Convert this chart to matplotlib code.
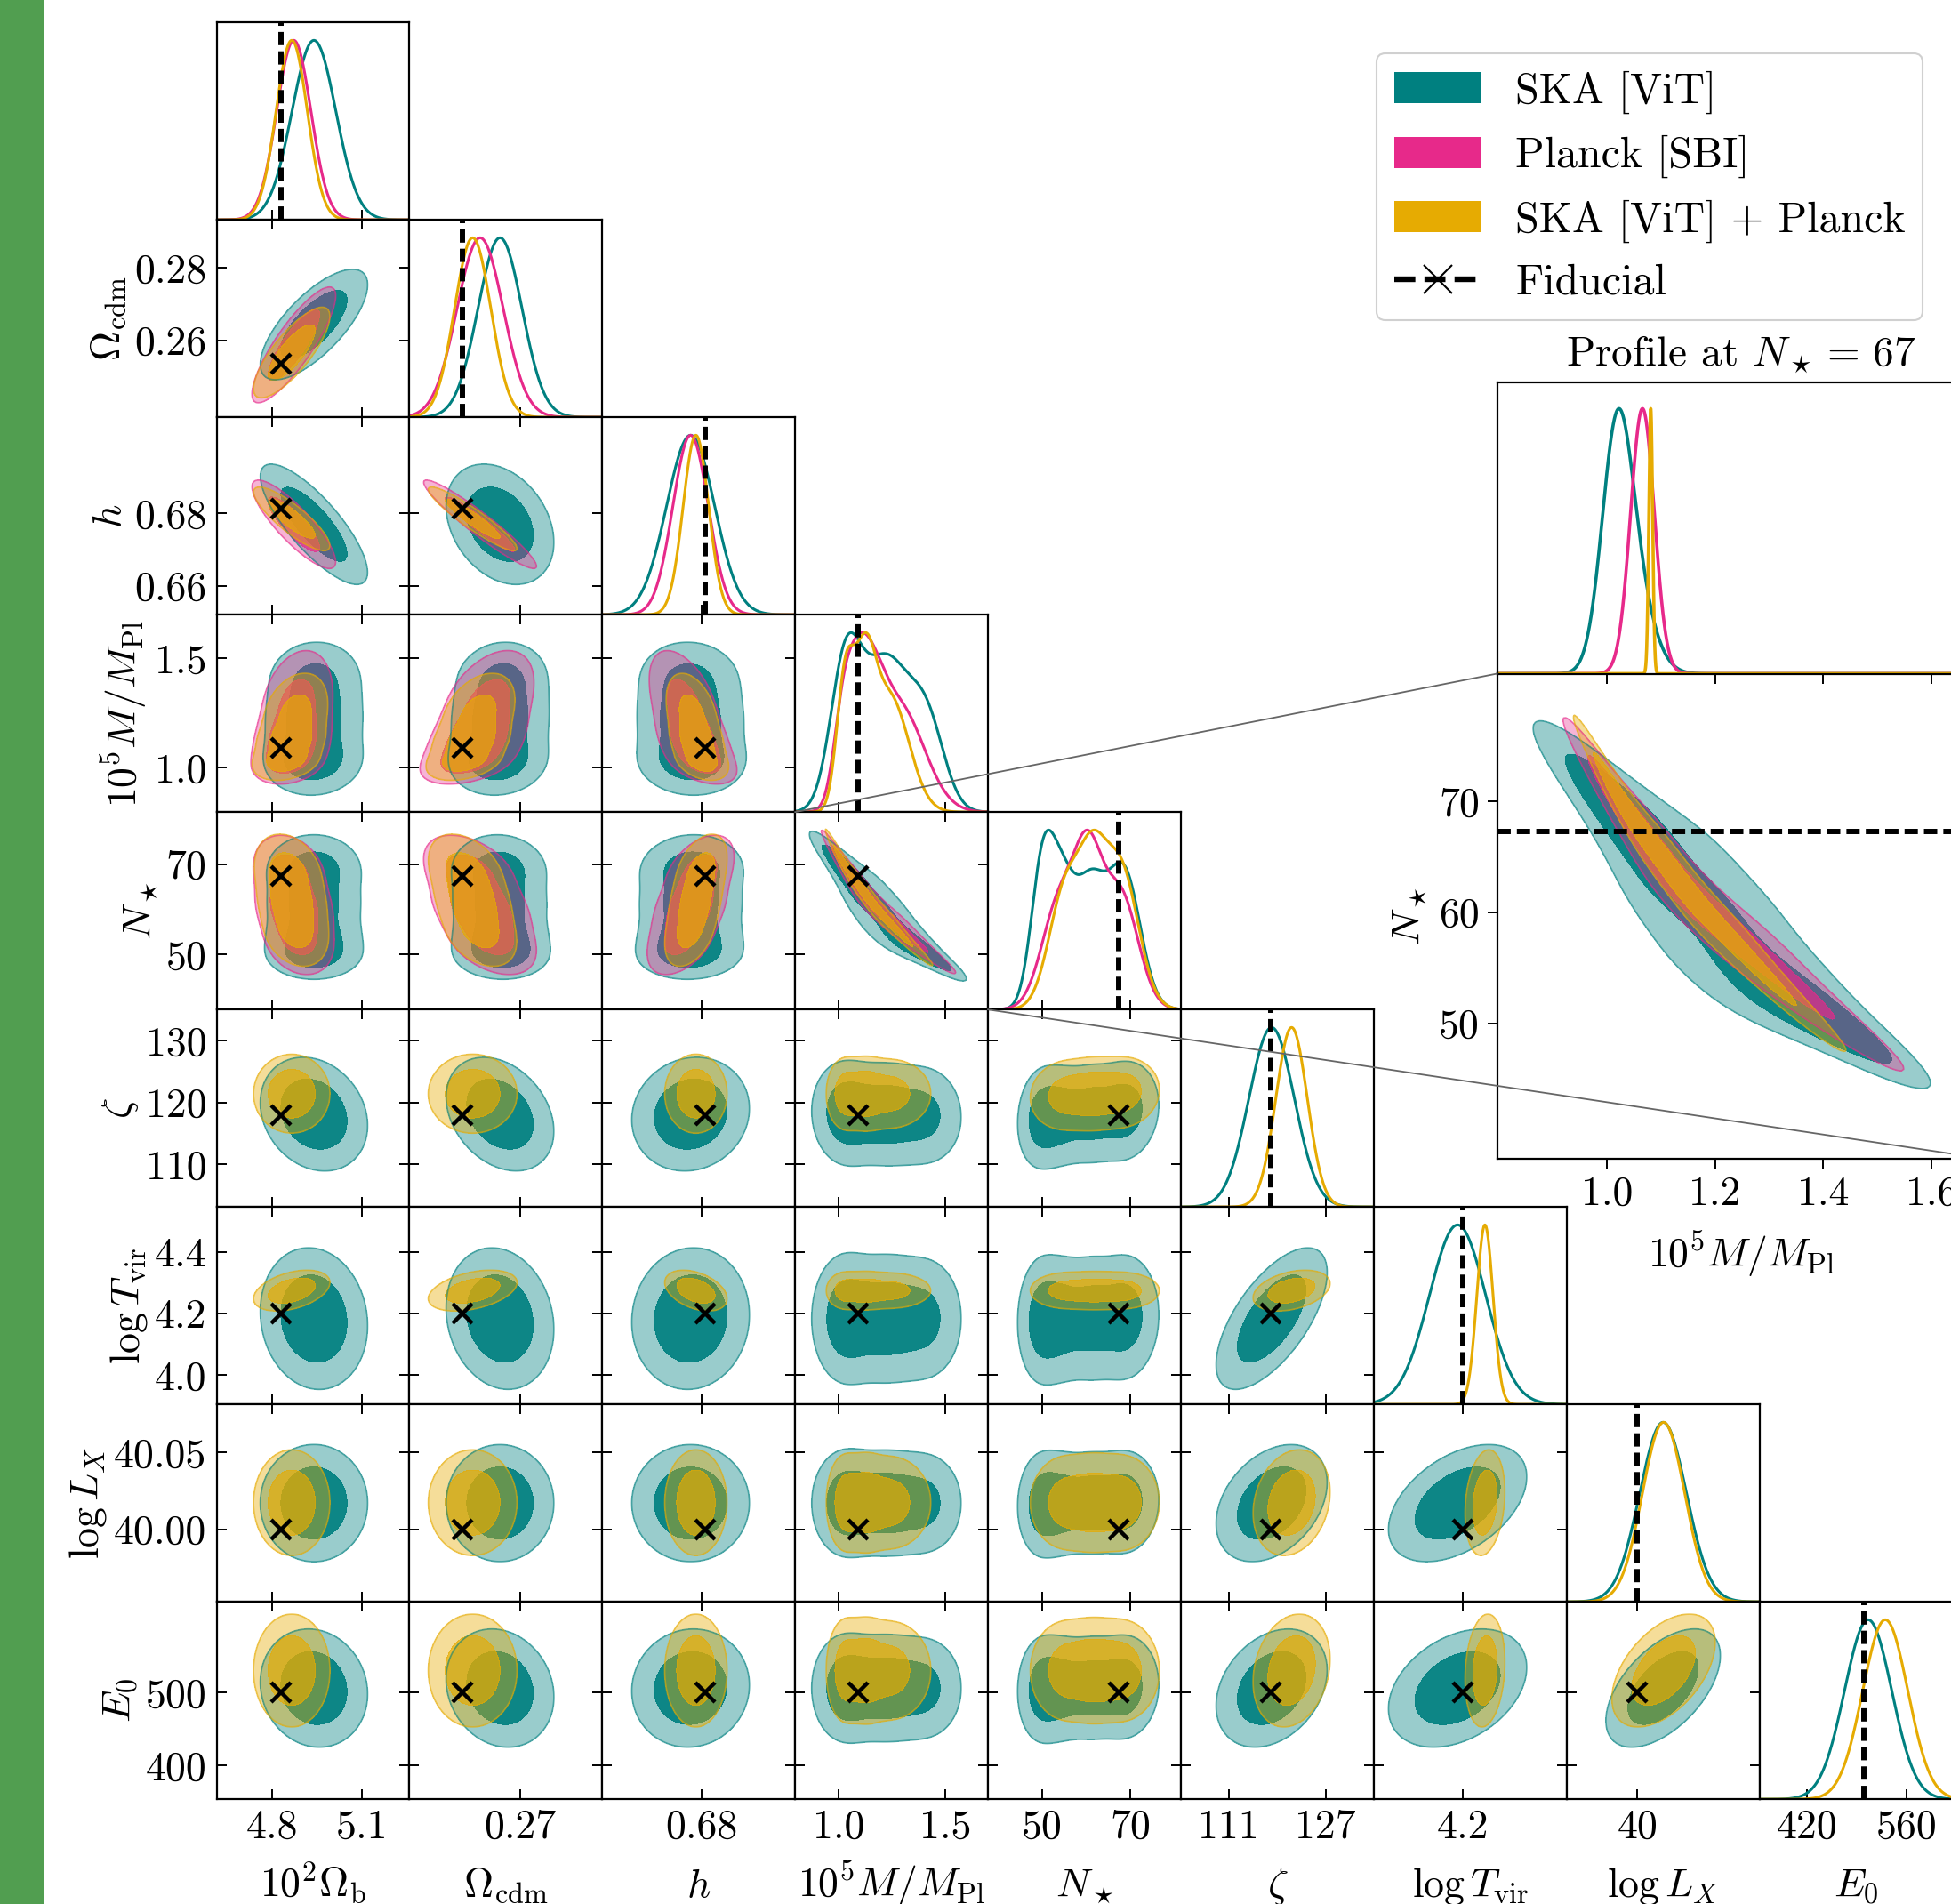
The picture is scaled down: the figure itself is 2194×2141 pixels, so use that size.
import math
import numpy as np
import matplotlib
matplotlib.use("Agg")
import matplotlib.pyplot as plt
from matplotlib.patches import Patch, Rectangle
from matplotlib.lines import Line2D

plt.rcParams.update({
    "font.family": "serif",
    "font.serif": ["cmr10"],
    "mathtext.fontset": "cm",
    "axes.formatter.use_mathtext": True,
    "axes.unicode_minus": False,
    "font.size": 33,
})

# ---------------- data ----------------
labels = [r"$10^2\Omega_{\rm b}$", r"$\Omega_{\rm cdm}$", r"$h$", r"$10^5M/M_{\rm Pl}$",
          r"$N_\star$", r"$\zeta$", r"$\log T_{\rm vir}$", r"$\log L_X$", r"$E_0$"]
lims = [(4.6155, 5.258), (0.2389, 0.2932), (0.652, 0.7066), (0.797, 1.700), (37.8, 81.5),
        (103.1, 135.0), (3.904, 4.546), (39.953, 40.081), (354.0, 624.0)]
fiducial = [4.83, 0.2537, 0.6812, 1.09, 67.3, 118.0, 4.2, 40.0, 500.0]

xtick_vals = [[4.8, 5.1], [0.27], [0.68], [1.0, 1.5], [50, 70], [111, 127], [4.2], [40.0], [420, 560]]
xtick_text = [["4.8", "5.1"], ["0.27"], ["0.68"], ["1.0", "1.5"], ["50", "70"], ["111", "127"],
              ["4.2"], ["40"], ["420", "560"]]
ytick_vals = [[], [0.26, 0.28], [0.66, 0.68], [1.0, 1.5], [50, 70], [110, 120, 130],
              [4.0, 4.2, 4.4], [40.00, 40.05], [400, 500]]
ytick_text = [[], ["0.26", "0.28"], ["0.66", "0.68"], ["1.0", "1.5"], ["50", "70"],
              ["110", "120", "130"], ["4.0", "4.2", "4.4"], ["40.00", "40.05"], ["400", "500"]]

series_names = ["SKA [ViT]", "Planck [SBI]", "SKA [ViT] + Planck"]
series_colors = ["#008080", "#e7298a", "#e6ab02"]
outer_alpha = [0.4, 0.35, 0.4]
inner_alpha = [0.95, 0.8, 0.8]

# 1D marginals: lists of (peak amplitude, mean, sigma) components
ska_marg = [
    [(1.0, 4.940, 0.073)],
    [(1.0, 0.2644, 0.0062)],
    [(1.0, 0.6770, 0.0068)],
    [(0.80, 1.030, 0.070), (0.95, 1.220, 0.120), (0.45, 1.420, 0.080)],
    [(0.80, 50.0, 2.6), (0.70, 54.5, 3.0), (0.70, 61.0, 3.3), (0.85, 68.6, 3.7)],
    [(1.0, 118.1, 3.75)],
    [(1.0, 4.183, 0.094)],
    [(1.0, 40.017, 0.0155)],
    [(1.0, 506.0, 33.0)],
]
planck_marg = [
    [(1.0, 4.873, 0.057)],
    [(1.0, 0.2588, 0.0065)],
    [(1.0, 0.6770, 0.0050)],
    [(0.60, 1.020, 0.045), (0.60, 1.090, 0.050), (0.50, 1.160, 0.060), (0.75, 1.280, 0.120)],
    [(0.70, 54.0, 4.0), (0.85, 60.5, 3.2), (0.75, 67.8, 4.0)],
    None, None, None, None,
]
combo_marg = [
    [(1.0, 4.866, 0.052)],
    [(1.0, 0.2567, 0.0051)],
    [(1.0, 0.6785, 0.0036)],
    [(0.85, 1.030, 0.040), (0.85, 1.120, 0.050), (0.80, 1.240, 0.090)],
    [(0.65, 55.5, 3.8), (0.55, 61.5, 3.0), (0.75, 67.8, 4.0)],
    [(1.0, 121.4, 2.6)],
    [(1.0, 4.274, 0.027)],
    [(1.0, 40.0173, 0.014)],
    [(1.0, 530.0, 31.5)],
]

# latent (Gaussian-copula) correlations, lower triangle: row i holds rho(i, j<i)
ska_corr = [
    [],
    [0.72],
    [-0.80, -0.30],
    [0.05, 0.10, -0.05],
    [0.00, -0.05, 0.05, -0.94],
    [-0.20, -0.30, 0.10, -0.05, 0.15],
    [-0.10, -0.15, 0.05, 0.00, 0.05, 0.65],
    [0.00, 0.00, 0.00, 0.00, 0.05, 0.35, 0.45],
    [-0.10, -0.15, 0.05, 0.00, 0.05, 0.30, 0.35, 0.55],
]
planck_corr = [
    [],
    [0.85],
    [-0.85, -0.95],
    [0.30, 0.50, -0.55],
    [-0.30, -0.50, 0.55, -0.982],
]
combo_corr = [
    [],
    [0.80],
    [-0.85, -0.93],
    [0.35, 0.45, -0.45],
    [-0.30, -0.45, 0.50, -0.988],
    [0.00, 0.00, 0.00, 0.00, 0.10],
    [0.40, 0.40, -0.40, 0.00, 0.00, 0.35],
    [0.00, 0.00, 0.00, 0.00, 0.00, 0.20, 0.20],
    [0.00, 0.00, 0.00, 0.00, 0.00, 0.20, 0.15, 0.50],
]

# conditional profile of 10^5 M/M_Pl at N_star = 67 (inset)
profile_ns = 67
profile_ska = [(0.85, 1.018, 0.028), (0.30, 1.050, 0.035)]
profile_planck = [(1.0, 1.066, 0.022)]
profile_combo = [(1.0, 1.0813, 0.0035)]
inset_xticks = [1.0, 1.2, 1.4, 1.6]
inset_yticks = [50, 60, 70]

datasets = [(ska_marg, ska_corr, series_colors[0], outer_alpha[0], inner_alpha[0]),
            (planck_marg, planck_corr, series_colors[1], outer_alpha[1], inner_alpha[1]),
            (combo_marg, combo_corr, series_colors[2], outer_alpha[2], inner_alpha[2])]

# ---------------- helpers ----------------
_erf = np.vectorize(math.erf)
SQRT2 = math.sqrt(2.0)
Z_TAB = np.linspace(-6, 6, 4001)
F_TAB = 0.5 * (1 + _erf(Z_TAB / SQRT2))


def mix_pdf(x, comps):
    x = np.asarray(x, float)
    return sum(a * np.exp(-0.5 * ((x - m) / s) ** 2) for a, m, s in comps)


def mix_cdf(x, comps):
    tot = sum(a * s for a, m, s in comps)
    return sum(a * s * 0.5 * (1 + _erf((x - m) / (s * SQRT2))) for a, m, s in comps) / tot


def latent(x, comps):
    F = np.clip(mix_cdf(x, comps), F_TAB[0], F_TAB[-1])
    return np.interp(F, F_TAB, Z_TAB)


def density2d(cx, cy, gx, gy, rho):
    fx, fy = mix_pdf(gx, cx), mix_pdf(gy, cy)
    zx, zy = latent(gx, cx), latent(gy, cy)
    ZX, ZY = np.meshgrid(zx, zy)
    q = (rho ** 2 * (ZX ** 2 + ZY ** 2) - 2 * rho * ZX * ZY) / (2 * (1 - rho ** 2))
    return np.outer(fy, fx) * np.exp(-q)


def hpd_levels(P):
    flat = np.sort(P.ravel())[::-1]
    cum = np.cumsum(flat)
    cum /= cum[-1]
    return flat[np.searchsorted(cum, 0.95)], flat[np.searchsorted(cum, 0.68)]


def grid_for(k, n=300):
    lo, hi = lims[k]
    sp = hi - lo
    return np.linspace(lo - 0.6 * sp, hi + 0.6 * sp, n)


def draw_2d(ax, j, i, n=300):
    gx, gy = grid_for(j, n), grid_for(i, n)
    for marg, corr, col, a_out, a_in in datasets:
        if marg[i] is None or marg[j] is None or len(corr) <= i:
            continue
        P = density2d(marg[j], marg[i], gx, gy, corr[i][j])
        l95, l68 = hpd_levels(P)
        ax.contourf(gx, gy, P, levels=[l95, l68], colors=[col], alpha=a_out)
        ax.contourf(gx, gy, P, levels=[l68, P.max() * 2], colors=[col], alpha=a_in)
        ax.contour(gx, gy, P, levels=[l95], colors=[col], linewidths=1.3, alpha=0.55)


# ---------------- figure ----------------
W, H, DPI = 2194, 2141, 100
fig = plt.figure(figsize=(W / DPI, H / DPI), dpi=DPI)
fig.add_artist(Rectangle((0, 0), 50.4 / W, 1, transform=fig.transFigure,
                         facecolor="#519e50", edgecolor="none", zorder=-1))

X0, PW, Y0, PH = 243.5, 216.9, 25.2, 222.0
DASH = (0, (2.5, 1.15))
N = len(labels)


def rect(x0, y0, w, h):
    return [x0 / W, 1 - (y0 + h) / H, w / W, h / H]


for i in range(N):
    for j in range(i + 1):
        ax = fig.add_axes(rect(X0 + j * PW, Y0 + i * PH, PW, PH))
        for s in ax.spines.values():
            s.set_linewidth(1.6)
        ax.set_xlim(lims[j])
        ax.set_xticks(xtick_vals[j])
        ax.set_xticklabels(xtick_text[j])
        if i == j:
            xx = np.linspace(lims[i][0], lims[i][1], 800)
            for marg, corr, col, a_out, a_in in datasets:
                if marg[i] is None:
                    continue
                y = mix_pdf(xx, marg[i])
                ax.plot(xx, y / y.max(), color=col, lw=2.2)
            ax.axvline(fiducial[i], color="k", lw=4.3, ls=DASH, zorder=5)
            ax.set_ylim(0, 1.1)
            ax.set_yticks([])
            ax.tick_params(axis="x", direction="in", top=False, bottom=True, length=8, width=1.4,
                           pad=8, labelbottom=(i == N - 1))
        else:
            draw_2d(ax, j, i)
            ax.plot(fiducial[j], fiducial[i], "x", color="k", ms=16, mew=3.2, zorder=10)
            ax.set_ylim(lims[i])
            ax.set_yticks(ytick_vals[i])
            ax.set_yticklabels(ytick_text[i])
            ax.tick_params(direction="in", top=True, bottom=True, left=True, right=True,
                           length=8, width=1.4, pad=8,
                           labelbottom=(i == N - 1), labelleft=(j == 0))
            if j == 0:
                ax.set_ylabel(labels[i], labelpad=4.5)
        if i == N - 1:
            ax.set_xlabel(labels[j])
            ax.xaxis.label.set_va("baseline")
            ax.xaxis.set_label_coords(0.5, -(2133 - 2023.2) / PH)

# ---------------- inset: profile at N_star = 67 ----------------
IX0, IW = 1683.5, 549.0
IY0, IH1, IH2 = 429.6, 327.9, 545.5
ax_in2 = fig.add_axes(rect(IX0, IY0 + IH1, IW, IH2))
ax_in1 = fig.add_axes(rect(IX0, IY0, IW, IH1))

draw_2d(ax_in2, 3, 4, n=500)
ax_in2.axhline(fiducial[4], color="k", lw=4.3, ls=DASH, zorder=5)
ax_in2.set_xlim(lims[3])
ax_in2.set_ylim(lims[4])
ax_in2.set_xticks(inset_xticks)
ax_in2.set_xticklabels(["%.1f" % v for v in inset_xticks])
ax_in2.set_yticks(inset_yticks)
ax_in2.set_yticklabels([str(v) for v in inset_yticks])
ax_in2.tick_params(direction="out", length=8, width=1.4, pad=6)
ax_in2.set_ylabel(labels[4], labelpad=8)
ax_in2.set_xlabel(labels[3])
ax_in2.xaxis.label.set_va("baseline")
ax_in2.xaxis.set_label_coords(0.5, -(1425 - 1303.1) / IH2)

xx = np.linspace(lims[3][0], lims[3][1], 3000)
for prof, col in zip([profile_ska, profile_planck, profile_combo], series_colors):
    y = mix_pdf(xx, prof)
    ax_in1.plot(xx, y / y.max(), color=col, lw=2.6)
ax_in1.set_xlim(lims[3])
ax_in1.set_ylim(0, 1.1)
ax_in1.set_yticks([])
ax_in1.set_xticks(inset_xticks)
ax_in1.tick_params(axis="x", direction="out", length=8, width=1.4, labelbottom=False)
ax_in1.set_title(r"Profile at $N_\star =\, %d$" % profile_ns, fontsize=34, pad=13)
for a in (ax_in1, ax_in2):
    for s in a.spines.values():
        s.set_linewidth(1.6)

# connector lines from the M-N_star panel to the inset
conn = [((X0 + 3 * PW, Y0 + 4 * PH), (IX0, IY0 + IH1)),
        ((X0 + 4 * PW, Y0 + 5 * PH), (IX0 + IW, IY0 + IH1 + IH2))]
for (xa, ya), (xb, yb) in conn:
    fig.add_artist(Line2D([xa / W, xb / W], [1 - ya / H, 1 - yb / H], transform=fig.transFigure,
                          color="0.4", lw=1.3, zorder=20))

# ---------------- legend ----------------
handles = [Patch(facecolor=c, edgecolor="none") for c in series_colors]
handles.append(Line2D([], [], color="k", lw=4.6, ls=(0, (3.7, 1.6)), marker="x", ms=23, mew=1.5))
leg = fig.legend(handles, series_names + ["Fiducial"], loc="upper right",
                 bbox_to_anchor=(2162 / W, 1 - 60.4 / H), bbox_transform=fig.transFigure,
                 fontsize=34.5, frameon=True, fancybox=True, framealpha=1, edgecolor="#d0d0d0",
                 borderaxespad=0, handlelength=2.05, handleheight=0.75, labelspacing=0.5,
                 handletextpad=0.8, borderpad=0.4)
leg.get_frame().set_linewidth(1.5)

fig.savefig("out.png", dpi=DPI)
